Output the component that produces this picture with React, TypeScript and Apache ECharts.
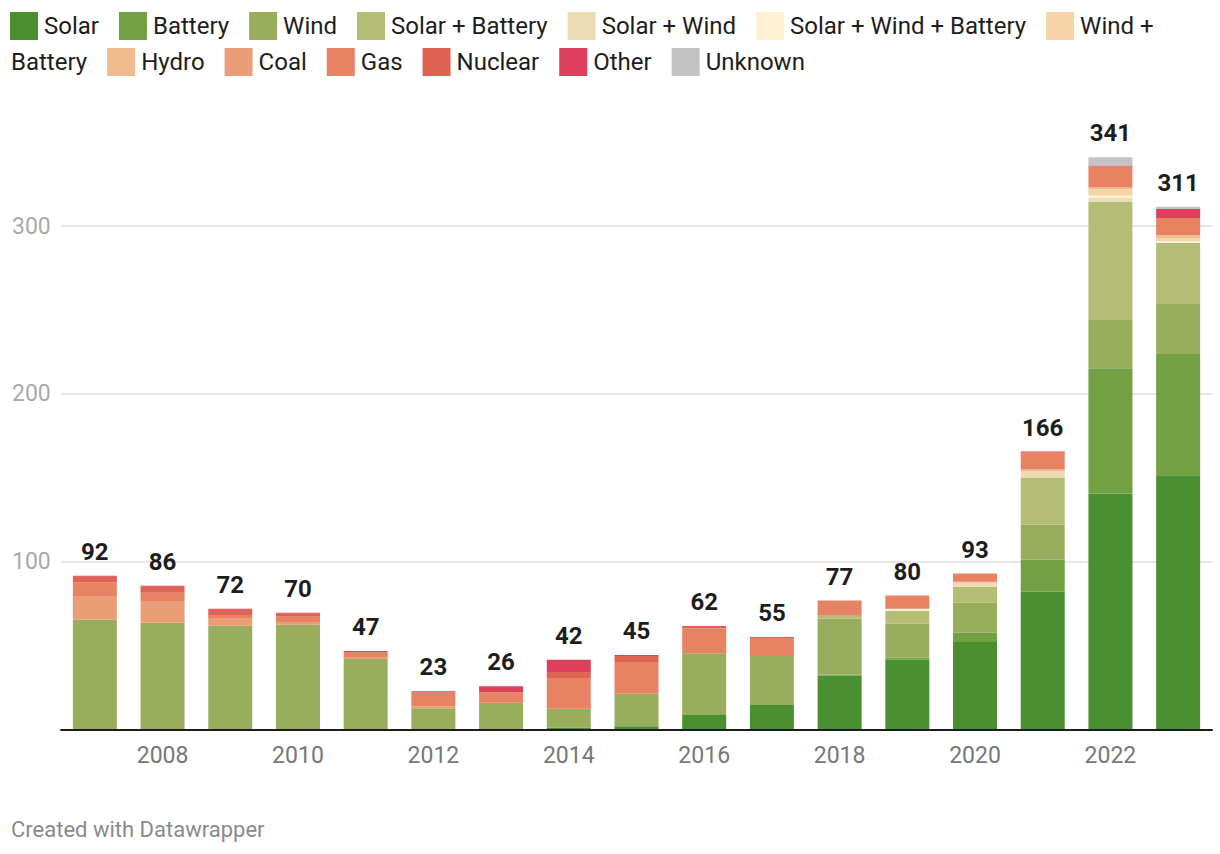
import React, { useEffect, useRef } from "react";
import * as echarts from "echarts";

const years = ["2007", "2008", "2009", "2010", "2011", "2012", "2013", "2014", "2015", "2016", "2017", "2018", "2019", "2020", "2021", "2022", "2023"];

const solar = [0, 0, 0, 0, 0, 0, 0, 1.2, 2, 8.7, 14.6, 32, 41.5, 52.2, 82.1, 140.6, 151.5];
const battery = [0, 0, 0, 0, 0, 0, 0, 0, 0, 0, 0, 0.6, 1.2, 5.4, 19.1, 74.6, 72.2];
const wind = [65.4, 63.6, 61.8, 62.4, 42.0, 12.6, 16.0, 11.0, 19.3, 36.8, 29.2, 33.4, 20.3, 17.9, 20.9, 29.3, 29.8];
const solarBattery = [0, 0, 0, 0, 0, 0, 0, 0, 0, 0, 0, 1.8, 7.8, 9.6, 28.0, 70.0, 36.4];
const solarWind = [0, 0, 0, 0, 0, 0, 0, 0, 0, 0, 0, 0, 0, 2.4, 3.6, 2.4, 0];
const solarWindBattery = [0, 0, 0, 0, 0, 0, 0, 0, 0, 0, 0, 0, 1.2, 0, 0, 1.2, 1.2];
const windBattery = [0, 0, 0, 0, 0, 0, 0, 0, 0, 0, 0, 0, 0, 0, 0, 3.6, 1.8];
const hydro = [0, 0, 0, 0, 0, 0, 0, 0, 0, 0, 0, 0, 0, 0.6, 1.2, 1.2, 1.8];
const coal = [13.7, 12.5, 4.2, 1.2, 1.2, 1.2, 0, 0.6, 0, 0, 0, 0, 0, 0, 0, 0, 0];
const gas = [8.5, 5.4, 1.8, 3.6, 3.0, 8.2, 6.2, 17.9, 18.9, 14.9, 10.7, 9.0, 7.8, 4.8, 10.1, 12.5, 10.1];
const nuclear = [3.4, 3.6, 3.6, 1.8, 0, 0, 0, 3.6, 3.6, 1.2, 0.6, 0, 0, 0, 0, 0, 0];
const other = [0.6, 0.6, 0.6, 0.6, 0.6, 0.8, 3.6, 7.2, 0.6, 0, 0, 0, 0, 0, 0.6, 0.6, 5.4];
const unknown = [0, 0, 0, 0, 0, 0, 0, 0, 0, 0, 0, 0, 0, 0, 0, 5.0, 1.2];

const totals = [92, 86, 72, 70, 47, 23, 26, 42, 45, 62, 55, 77, 80, 93, 166, 341, 311];

const seriesNames = ["Solar", "Battery", "Wind", "Solar + Battery", "Solar + Wind", "Solar + Wind + Battery", "Wind + Battery", "Hydro", "Coal", "Gas", "Nuclear", "Other", "Unknown"];
const seriesData = [solar, battery, wind, solarBattery, solarWind, solarWindBattery, windBattery, hydro, coal, gas, nuclear, other, unknown];
const seriesColors = ["#4a9030", "#72a043", "#99ae5c", "#b5bc75", "#ebdcb3", "#fdf0d3", "#f7d4a8", "#f0bb8e", "#eb9e75", "#e78363", "#de6353", "#de3f5a", "#c3c3c3"];

const FONT = "Roboto, 'Noto Sans', sans-serif";
const LEGEND_FONT_SIZE = 24;

function buildLegend(): any[] {
  const canvas = document.createElement("canvas");
  const ctx = canvas.getContext("2d")!;
  ctx.font = `${LEGEND_FONT_SIZE}px Roboto`;
  const els: any[] = [];
  const startX = 10;
  const maxX = 1214;
  const rowY = (r: number) => 26 + r * 36;
  const sw = 28;
  let x = startX;
  let row = 0;
  const pushText = (t: string, tx: number, r: number) => {
    els.push({
      type: "text",
      x: tx,
      y: rowY(r),
      style: { text: t, fill: "#1d1d1d", fontSize: LEGEND_FONT_SIZE, fontFamily: FONT, verticalAlign: "middle", align: "left" },
    });
  };
  seriesNames.forEach((name, i) => {
    if (x + sw > maxX) {
      row++;
      x = startX;
    }
    els.push({
      type: "rect",
      shape: { x, y: rowY(row) - 14, width: sw, height: 28 },
      style: { fill: seriesColors[i] },
    });
    let lineStart = x + sw + 6;
    const words = name.split(" ");
    let line = "";
    for (const w of words) {
      const cand = line ? line + " " + w : w;
      if (line && lineStart + ctx.measureText(cand).width > maxX) {
        pushText(line, lineStart, row);
        row++;
        lineStart = startX + 1;
        line = w;
      } else {
        line = cand;
      }
    }
    pushText(line, lineStart, row);
    x = lineStart + ctx.measureText(line).width + 20;
  });
  return els;
}

export default function App() {
  const ref = useRef<HTMLDivElement>(null);
  useEffect(() => {
    document.body.style.margin = "0";
    const chart = echarts.init(ref.current!, undefined, { renderer: "svg" });
    const series: any[] = seriesNames.map((n, i) => ({
      name: n,
      type: "bar",
      stack: "total",
      data: seriesData[i],
      barWidth: 44,
      clip: false,
      silent: true,
      itemStyle: { color: seriesColors[i] },
    }));
    series.push({
      name: "total",
      type: "bar",
      stack: "total",
      data: totals.map(() => 0),
      barWidth: 44,
      clip: false,
      silent: true,
      itemStyle: { color: "transparent" },
      label: {
        show: true,
        position: "top",
        distance: 12,
        formatter: (p: any) => String(totals[p.dataIndex]),
        fontSize: 24,
        fontWeight: "bold",
        color: "#1d1d1d",
        fontFamily: FONT,
      },
    });
    chart.setOption({
      animation: false,
      grid: { left: 61, right: 8, top: 226, bottom: 124.5 },
      xAxis: {
        type: "category",
        data: years,
        axisLine: { lineStyle: { color: "#1d1d1d", width: 2 } },
        axisTick: { show: false },
        axisLabel: {
          interval: (i: number) => i % 2 === 1,
          fontSize: 23,
          color: "#777777",
          margin: 14,
          fontFamily: FONT,
        },
        z: 10,
      },
      yAxis: {
        type: "value",
        min: 0,
        max: 300,
        interval: 100,
        axisLine: { show: false },
        axisTick: { show: false },
        axisLabel: {
          formatter: (v: number) => (v === 0 ? "" : String(v)),
          align: "left",
          margin: 49,
          fontSize: 23,
          color: "#aaaaaa",
          fontFamily: FONT,
        },
        splitLine: { lineStyle: { color: "#e6e6e6", width: 2 } },
      },
      graphic: [
        ...buildLegend(),
        {
          type: "text",
          x: 11,
          y: 829,
          style: { text: "Created with Datawrapper", fill: "#8a8a8a", fontSize: 22, fontFamily: FONT, verticalAlign: "middle", align: "left" },
        },
      ],
      series,
    });
    return () => chart.dispose();
  }, []);
  return <div ref={ref} style={{ width: 1220, height: 854 }} />;
}
